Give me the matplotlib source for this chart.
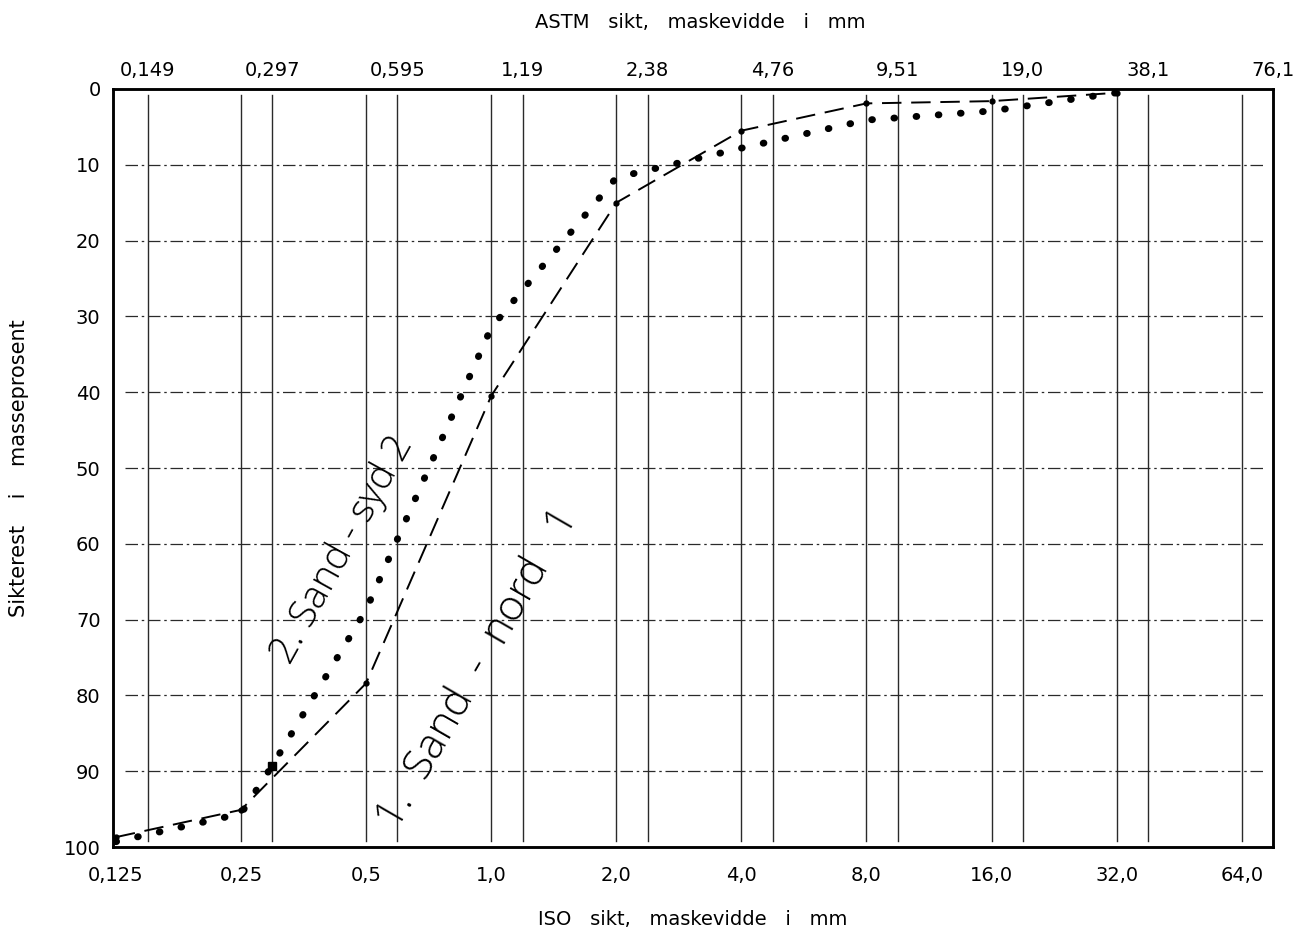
import matplotlib
matplotlib.use('Agg')
import matplotlib.pyplot as plt
from matplotlib.ticker import NullLocator

# sikteserier (mm) og etiketter
ISO_SIKT = [0.125, 0.25, 0.5, 1.0, 2.0, 4.0, 8.0, 16.0, 32.0, 64.0]
ISO_LABELS = ['0,125', '0,25', '0,5', '1,0', '2,0', '4,0', '8,0', '16,0', '32,0', '64,0']
ASTM_SIKT = [0.149, 0.297, 0.595, 1.19, 2.38, 4.76, 9.51, 19.0, 38.1, 76.1]
ASTM_LABELS = ['0,149', '0,297', '0,595', '1,19', '2,38', '4,76', '9,51', '19,0', '38,1', '76,1']
Y_TICKS = [0, 10, 20, 30, 40, 50, 60, 70, 80, 90, 100]

# prøve 1: Sand - nord
NORD_SIKT = [0.125, 0.25, 0.5, 1.0, 2.0, 4.0, 8.0, 16.0, 32.0]
NORD_REST = [98.7, 95.1, 78.4, 40.5, 15.0, 5.5, 1.9, 1.6, 0.5]

# prøve 2: Sand - syd
SYD_SIKT = [0.125, 0.25, 0.297, 0.5, 1.0, 2.0, 4.0, 8.0, 16.0, 32.0]
SYD_REST = [99.3, 95.6, 89.3, 68.7, 31.5, 11.7, 7.8, 4.1, 2.9, 0.5]

GRID = '#2a2a2a'
HAND = ['Open Sans', 'DejaVu Sans']


def main():
    fig = plt.figure(figsize=(13.04, 9.30), dpi=100)
    ax = fig.add_axes([113 / 1304, 1 - 847 / 930, 1160 / 1304, 758 / 930])

    ax.set_xscale('log', base=2)
    ax.set_xlim(0.123, ASTM_SIKT[-1])
    ax.set_ylim(100, 0)

    # rutenett: loddrette linjer for begge sikteserier, vannrette strek-prikk
    for v in ISO_SIKT[1:] + ASTM_SIKT[:-1]:
        ax.axvline(v, ymin=0.008, ymax=0.992, color=GRID, lw=1.0, zorder=1)
    for y in Y_TICKS[1:-1]:
        ax.axhline(y, xmin=0.01, xmax=0.993, color=GRID, lw=0.9,
                   linestyle=(0, (10, 3, 2, 3)), zorder=1)

    ax.plot(NORD_SIKT, NORD_REST, color='black', lw=1.4,
            linestyle=(0, (10, 5)), marker='o', markersize=3.5, zorder=3)
    ax.plot(SYD_SIKT, SYD_REST, color='black', lw=5,
            linestyle=(0, (0.1, 3.1)), dash_capstyle='round', zorder=3)
    ax.plot([SYD_SIKT[2]], [SYD_REST[2]], color='black', marker='s',
            markersize=6, linestyle='none', zorder=3)

    ax.text(0.438, 60.8, '2. Sand - syd 2', rotation=61, fontsize=28,
            family=HAND, fontweight='light', ha='center', va='center', zorder=4)
    ax.text(0.93, 76.4, '1.  Sand  -  nord   1', rotation=60, fontsize=31,
            family=HAND, fontweight='light', ha='center', va='center', zorder=4)

    # akser
    ax.set_xticks(ISO_SIKT)
    ax.set_xticklabels(ISO_LABELS)
    ax.xaxis.set_minor_locator(NullLocator())
    ax.set_yticks(Y_TICKS)
    ax.tick_params(axis='x', length=0, pad=13.5, labelsize=14)
    ax.tick_params(axis='y', length=0, pad=9, labelsize=14)

    top = ax.twiny()
    top.set_xscale('log', base=2)
    top.set_xlim(ax.get_xlim())
    top.set_xticks(ASTM_SIKT)
    top.set_xticklabels(ASTM_LABELS)
    top.xaxis.set_minor_locator(NullLocator())
    top.tick_params(axis='x', length=0, pad=6.5, labelsize=14)

    for a in (ax, top):
        for s in a.spines.values():
            s.set_linewidth(1.8)

    ax.set_xlabel('ISO   sikt,   maskevidde   i   mm', fontsize=14)
    ax.xaxis.set_label_coords(0.5, -0.083)
    top.set_xlabel('ASTM   sikt,   maskevidde   i   mm', fontsize=14)
    top.xaxis.set_label_coords(0.506, 1.08)
    ax.set_ylabel('Sikterest    i    masseprosent', fontsize=15)
    ax.yaxis.set_label_coords(-0.072, 0.5)

    fig.savefig('out.png', dpi=100)


if __name__ == '__main__':
    main()
